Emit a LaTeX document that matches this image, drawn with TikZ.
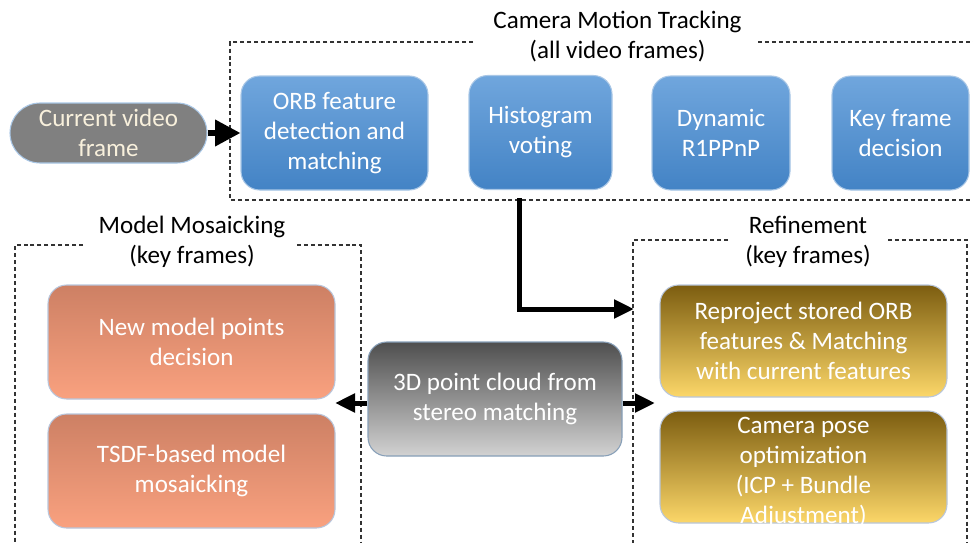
\documentclass[tikz,border=0pt]{standalone}
\usepackage{fontspec}
\setmainfont{Carlito}
\usetikzlibrary{arrows.meta,calc}

\definecolor{blueTop}{HTML}{70A6DD}
\definecolor{blueBot}{HTML}{4383C5}
\definecolor{blueEdge}{HTML}{A9C7E6}
\definecolor{orTop}{HTML}{CD8064}
\definecolor{orBot}{HTML}{F9A17F}
\definecolor{orEdge}{HTML}{B8C6DC}
\definecolor{grTop}{HTML}{4F4F4F}
\definecolor{grBot}{HTML}{D2D2D2}
\definecolor{goTop}{HTML}{7C5D10}
\definecolor{goBot}{HTML}{FCD769}
\definecolor{stad}{HTML}{808080}
\definecolor{cream}{HTML}{F8F0DC}
\definecolor{frameGray}{HTML}{333333}

\tikzset{
  txt/.style={font=\fontsize{18.8}{22.5}\selectfont, align=center},
  card/.style={txt, text=white, rounded corners=14pt, draw=blueEdge, line width=0.8pt,
    inner sep=0pt, minimum height=85.5pt},
  bluebox/.style={card, top color=blueTop, bottom color=blueBot},
  orangebox/.style={card, draw=orEdge, top color=orTop, bottom color=orBot, minimum width=215.25pt},
  goldbox/.style={card, draw=orEdge, top color=goTop, bottom color=goBot, minimum width=215.25pt, minimum height=84pt},
  graybox/.style={card, draw=blueEdge!80!black, top color=grTop, bottom color=grBot},
  frame/.style={draw=frameGray, line width=1pt, dash pattern=on 3pt off 2.2pt},
  heading/.style={txt, text=black},
  arr/.style={draw=black, line width=3.75pt, -{Triangle[length=15pt,width=13.5pt]}},
  bigarr/.style={draw=black, line width=4.2pt, -{Triangle[length=19pt,width=19pt]}},
}

\begin{document}
\begin{tikzpicture}[x=0.75pt,y=-0.75pt]
\useasboundingbox (0,0) rectangle (973,542);

% group frames (open where the headings sit)
\draw[frame] (473,42) -- (230,42) -- (230,200) -- (975,200);
\draw[frame] (758,42) -- (975,42);
\draw[frame] (83,245) -- (15,245) -- (15,545);
\draw[frame] (297,245) -- (361,245) -- (361,545);
\draw[frame] (728,240) -- (633,240) -- (633,545);
\draw[frame] (888,240) -- (967,240) -- (967,545);

% headings
\node[heading] (hTrack) at (617.5,37) {Camera Motion Tracking\\(all video frames)};
\node[heading] (hMosaic) at (192,242) {Model Mosaicking\\(key frames)};
\node[heading] (hRefine) at (808,242) {Refinement\\(key frames)};

% input
\node[txt, text=cream, fill=stad, draw=blueEdge, line width=0.8pt, rounded corners=22.5pt,
      minimum width=147.75pt, minimum height=45pt, inner sep=0pt] (cur) at (108.5,133)
      {Current video\\frame};

% tracking stages
\node[bluebox, minimum width=140.25pt] (orb) at (334.5,133) {ORB feature\\detection and\\matching};
\node[bluebox, minimum width=107.25pt] (hist) at (540.5,132.5) {Histogram\\voting};
\node[bluebox, minimum width=103.5pt] (dyn) at (721,133) {Dynamic\\R1PPnP};
\node[bluebox, minimum width=102.75pt] (key) at (900.5,133) {Key frame\\decision};

% mosaicking stages
\node[orangebox] (nmp) at (191.5,342) {New model points\\decision};
\node[orangebox] (tsdf) at (191.5,471) {TSDF-based model\\mosaicking};

% stereo point cloud
\node[graybox, minimum width=190.5pt] (pc) at (495,399) {3D point cloud from\\stereo matching};

% refinement stages; the four-line text runs slightly past its card
\node[goldbox] (rep) at (803.5,341) {Reproject stored ORB\\features \& Matching\\with current features};
\node[goldbox, text height=84pt, text depth=0pt] (cam) at (803.5,467)
  {Camera pose\\optimization\\(ICP + Bundle\\Adjustment)};

% connector end points
\coordinate (trkOut) at (519,198);
\coordinate (refIn) at (634,309);
\coordinate (mosIn) at (335,403);
\coordinate (refIn2) at (655,403);

% connectors
\draw[bigarr] (cur.east) -- (orb.west |- cur.east);
\draw[arr] (trkOut) |- (refIn);
\draw[arr] (pc.west |- mosIn) -- (mosIn);
\draw[arr] (pc.east |- refIn2) -- (refIn2);
\end{tikzpicture}
\end{document}
